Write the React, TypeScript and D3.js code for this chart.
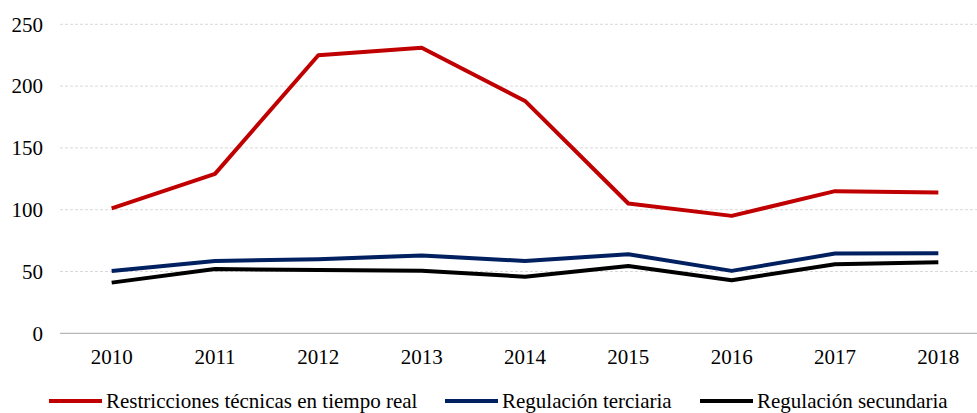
import React, { useEffect, useRef } from 'react';
import * as d3 from 'd3';

const years = ['2010', '2011', '2012', '2013', '2014', '2015', '2016', '2017', '2018'];
const restricciones = [101, 129, 225, 231, 188, 105, 95, 115, 114];
const terciaria = [50.4, 58.5, 60, 63, 58.5, 64, 50.5, 64.5, 64.7];
const secundaria = [41, 52, 51.2, 50.7, 45.8, 54.5, 43, 55.8, 57.4];
const yTicks = [0, 50, 100, 150, 200, 250];

const series = [
  { name: 'Restricciones técnicas en tiempo real', values: restricciones, color: '#C00000' },
  { name: 'Regulación terciaria', values: terciaria, color: '#002060' },
  { name: 'Regulación secundaria', values: secundaria, color: '#000000' },
];

const W = 977;
const H = 413;
const margin = { top: 24, right: -13, bottom: 80, left: 60 };
const FONT = "'Liberation Serif', 'Times New Roman', serif";
const FS = 21;

const App = () => {
  const ref = useRef<SVGSVGElement>(null);

  useEffect(() => {
    const svg = d3.select(ref.current);
    svg.selectAll('*').remove();

    const x = d3.scalePoint<string>()
      .domain(years)
      .range([margin.left, W - margin.right])
      .padding(0.5);
    const y = d3.scaleLinear()
      .domain([0, 250])
      .range([H - margin.bottom + 0.3, margin.top + 0.3]);

    // grid
    svg.append('g')
      .selectAll('line')
      .data(yTicks.filter((t) => t > 0))
      .join('line')
      .attr('x1', margin.left)
      .attr('x2', W)
      .attr('y1', (d) => y(d))
      .attr('y2', (d) => y(d))
      .attr('stroke', '#d9d9d9')
      .attr('stroke-width', 1)
      .attr('stroke-dasharray', '3,2');

    // baseline
    svg.append('line')
      .attr('x1', margin.left)
      .attr('x2', W)
      .attr('y1', y(0))
      .attr('y2', y(0))
      .attr('stroke', '#a6a6a6')
      .attr('stroke-width', 1);

    // y labels
    svg.append('g')
      .selectAll('text')
      .data(yTicks)
      .join('text')
      .attr('x', 43)
      .attr('y', (d) => y(d))
      .attr('dy', '0.35em')
      .attr('text-anchor', 'end')
      .attr('font-family', FONT)
      .attr('font-size', FS)
      .attr('fill', '#000')
      .text((d) => d);

    // x labels
    svg.append('g')
      .selectAll('text')
      .data(years)
      .join('text')
      .attr('x', (d) => x(d)!)
      .attr('y', 364)
      .attr('text-anchor', 'middle')
      .attr('font-family', FONT)
      .attr('font-size', FS)
      .attr('fill', '#000')
      .text((d) => d);

    const line = d3.line<number>()
      .x((_, i) => x(years[i])!)
      .y((d) => y(d));

    svg.append('g')
      .selectAll('path')
      .data(series)
      .join('path')
      .attr('d', (s) => line(s.values))
      .attr('fill', 'none')
      .attr('stroke', (s) => s.color)
      .attr('stroke-width', 4)
      .attr('stroke-linejoin', 'round');

    // legend
    const legendX = [49, 445, 700];
    const lg = svg.append('g');
    series.forEach((s, i) => {
      lg.append('line')
        .attr('x1', legendX[i])
        .attr('x2', legendX[i] + 53)
        .attr('y1', 401)
        .attr('y2', 401)
        .attr('stroke', s.color)
        .attr('stroke-width', 4);
      lg.append('text')
        .attr('x', legendX[i] + 57)
        .attr('y', 408)
        .attr('font-family', FONT)
        .attr('font-size', FS)
        .attr('fill', '#000')
        .text(s.name);
    });
  }, []);

  return (
    <svg ref={ref} width={W} height={H} style={{ position: 'absolute', left: 0, top: 0 }} />
  );
};

export default App;
